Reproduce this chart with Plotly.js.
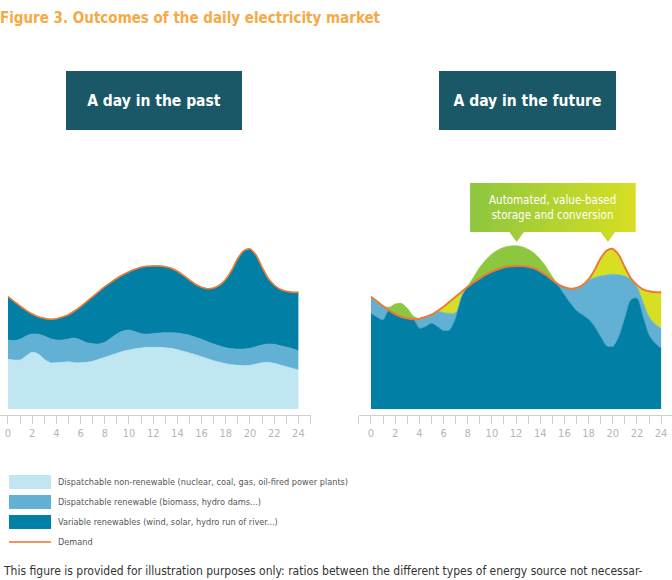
<!DOCTYPE html>
<html>
<head>
<meta charset="utf-8">
<script src="https://cdn.plot.ly/plotly-3.0.1.min.js"></script>
<style>
  html, body { margin: 0; padding: 0; background: #ffffff; }
  #chart { width: 672px; height: 580px; }
</style>
</head>
<body>
<div id="chart"></div>
<script>
// Half-hourly time axis (hours of the day)
const hours = [0,0.5,1,1.5,2,2.5,3,3.5,4,4.5,5,5.5,6,6.5,7,7.5,8,8.5,9,9.5,10,10.5,11,11.5,12,
               12.5,13,13.5,14,14.5,15,15.5,16,16.5,17,17.5,18,18.5,19,19.5,20,20.5,21,21.5,22,22.5,23,23.5,24];

// Electricity demand (same profile on both days)
const demand = [112.3,107.7,103,98.7,95,92.3,90.7,89.7,90.3,92,94.3,98,102.3,107.3,112.3,117.3,122.3,126.7,
                130.7,134.3,137.3,139.7,141.7,142.7,143,143,142.3,140.7,137.7,133.7,129,124.7,121.7,120.3,
                121,124,129.7,139,150.7,158.3,160,154,141.7,130.7,124,119.7,117.7,116.7,116.7];

// A day in the past: output by source
const pastNonRenewable = [49.7,49,49,53,56.7,55,49.7,46.3,46.3,46.7,47.3,46.3,46.3,46.7,47.7,49.7,51.7,53.7,
                          55.7,57.7,59,60.3,61,61.7,61.7,61.7,61.3,60.7,59.3,57.7,56,54.3,52.3,50.3,48.3,46.7,
                          45.3,44.3,43.7,43.3,43.7,45,46.3,46.7,45.7,44,42.3,40.7,39];
const pastRenewable = [19.3,19.3,20.7,20,18.3,19.7,23.3,24,22.7,22.3,22.7,24.7,22.7,19.6,17.6,15.3,15,17,
                       19.3,20.3,20,17,14.3,13.3,13.6,14.3,15,15.6,16.7,17.3,17.7,17.4,17.4,17,16.7,16.3,
                       16,16,16.3,16.7,17,17.3,17.7,18.3,19,19.3,19.7,19.6,19.3];
const pastVariable = [43.3,39.4,33.3,25.7,20,17.6,17.7,19.4,21.3,23,24.3,27,33.3,41,47,52.3,55.6,56,55.7,
                      56.3,58.3,62.4,66.4,67.7,67.7,67,66,64.4,61.7,58.7,55.3,53,52,53,56,61,68.4,78.7,
                      90.7,98.3,99.3,91.7,77.7,65.7,59.3,56.4,55.7,56.4,58.4];

// A day in the future: variable renewable production and dispatchable renewable top-up
const futureVariable = [95.7,91.7,89,101.7,105,105.7,100.7,93,80.7,82.3,85.7,82.3,78.3,79,90.7,112.3,123,
                        132.3,141.7,149,155,159,161.7,163,163.3,162.3,159.7,155.7,149.7,141.7,132.3,123,114,
                        105.7,98.3,94,89.7,82.3,72.3,63,62.3,72.3,90.7,109,110.7,92.3,74,65.7,60.7];
const futureRenewable = [16.6,16,14,0,0,0,0,0,9.6,9.7,8.6,15.7,18,16.7,5.6,0.7,0,0,0,0,0,0,0,0,0,0,0,0,0,0,0,
                         1.7,7.7,14.6,22.7,30,39.3,49,60.7,71,72.4,62,42.3,20.7,11.6,15,18.3,19.3,20];

// Axis labels and texts
const tickHours = [0,2,4,6,8,10,12,14,16,18,20,22,24];
const tickLabels = ['0','2','4','6','8','10','12','14','16','18','20','22','24'];
const seriesNames = [
  'Dispatchable non-renewable (nuclear, coal, gas, oil-fired power plants)',
  'Dispatchable renewable (biomass, hydro dams...)',
  'Variable renewables (wind, solar, hydro run of river...)',
  'Demand'
];
const panelTitles = ['A day in the past', 'A day in the future'];
const calloutText = 'Automated, value-based<br>storage and conversion';
const figureTitle = 'Figure 3. Outcomes of the daily electricity market';
const footnote = 'This figure is provided for illustration purposes only: ratios between the different types of energy source not necessar-';

// ---- styling ----
const C = {
  nonRenewable: '#bfe6f1',
  renewable: '#62b0d4',
  variable: '#017fa4',
  charge: '#8dc63f',
  discharge: '#d7df23',
  demand: '#ee7b35',
  titleBox: '#1a5767',
  axis: '#cfcfcf',
  tickText: '#b5b5b5'
};
const COND = '"DejaVu Sans Condensed", "DejaVu Sans", sans-serif';
const W = 672, H = 580;
const px = v => v / W;            // horizontal pixel -> paper
const py = v => 1 - v / H;        // vertical pixel -> paper

function area(y, color, xa, ya, extra) {
  return Object.assign({
    type: 'scatter', mode: 'lines', x: hours, y: y, xaxis: xa, yaxis: ya,
    line: { shape: 'spline', smoothing: 0.8, width: 0.6, color: color },
    fillcolor: color, hoverinfo: 'skip', showlegend: false
  }, extra);
}

// Past day: stacked supply
const traces = [
  area(pastNonRenewable, C.nonRenewable, 'x', 'y', { stackgroup: 'past' }),
  area(pastRenewable, C.renewable, 'x', 'y', { stackgroup: 'past' }),
  area(pastVariable, C.variable, 'x', 'y', { stackgroup: 'past' }),
  { type: 'scatter', mode: 'lines', x: hours, y: demand, xaxis: 'x', yaxis: 'y',
    line: { shape: 'spline', smoothing: 0.8, color: C.demand, width: 1.6 }, hoverinfo: 'skip', showlegend: false }
];

// Future day: variable output up to demand, dispatchable renewables on top,
// storage discharge fills the gap, surplus above demand is stored
const futDark = hours.map((h, i) => Math.min(futureVariable[i], demand[i]));
const futSupply = hours.map((h, i) => Math.min(futureVariable[i] + futureRenewable[i], demand[i]));
const futSurplus = hours.map((h, i) => Math.max(futureVariable[i], demand[i]));

traces.push(
  area(futDark, C.variable, 'x2', 'y2', { fill: 'tozeroy' }),
  area(futSupply, C.renewable, 'x2', 'y2', { fill: 'tonexty' }),
  area(demand, C.discharge, 'x2', 'y2', { fill: 'tonexty', line: { shape: 'spline', smoothing: 0.8, width: 0 } }),
  area(futSurplus, C.charge, 'x2', 'y2', { fill: 'tonexty' }),
  { type: 'scatter', mode: 'lines', x: hours, y: demand, xaxis: 'x2', yaxis: 'y2',
    line: { shape: 'spline', smoothing: 0.8, color: C.demand, width: 2 }, hoverinfo: 'skip', showlegend: false }
);

// Speech bubble for the storage callout, placed over the future panel
const bubble = { left: 8.2, right: 21.9, top: 226, bottom: 177, tipDepth: 10, tipHalf: 0.6, tips: [12.05, 19.6] };
(function () {
  const bx = [bubble.left, bubble.right, bubble.right];
  const by = [bubble.top, bubble.top, bubble.bottom];
  bubble.tips.slice().reverse().forEach(t => {
    bx.push(t + bubble.tipHalf, t, t - bubble.tipHalf);
    by.push(bubble.bottom, bubble.bottom - bubble.tipDepth, bubble.bottom);
  });
  bx.push(bubble.left, bubble.left);
  by.push(bubble.bottom, bubble.top);
  traces.push({
    type: 'scatter', mode: 'lines', x: bx, y: by, xaxis: 'x2', yaxis: 'y2',
    fill: 'toself', line: { width: 0 }, fillcolor: C.charge,
    fillgradient: { type: 'horizontal', colorscale: [[0, C.charge], [1, C.discharge]] },
    hoverinfo: 'skip', showlegend: false
  });
})();

// ---- axes ----
const PXH = 12.1;                       // pixels per hour
const yDomain = [(H - 415) / H, (H - 60) / H];
const yRange = [-6, 349];
function xAxis(range, left, anchor) {
  const right = Math.min(W, left + (range[1] - range[0]) * PXH);
  return {
    domain: [left / W, right / W], range: range, anchor: anchor,
    tickmode: 'array', tickvals: tickHours, ticktext: tickLabels,
    ticks: 'outside', ticklen: 8, tickwidth: 1, tickcolor: C.axis,
    minor: { tick0: 0, dtick: 1, ticks: 'outside', ticklen: 8, tickwidth: 1, tickcolor: C.axis, showgrid: false },
    showline: true, linecolor: C.axis, linewidth: 1,
    showgrid: false, zeroline: false, fixedrange: true,
    tickfont: { family: COND, size: 11, color: C.tickText }
  };
}
function yAxis(anchor) {
  return { domain: yDomain, range: yRange, anchor: anchor, visible: false, fixedrange: true };
}

// ---- legend (drawn as swatches + labels) ----
const legendRows = [482, 502, 522, 542];
const legendColors = [C.nonRenewable, C.renewable, C.variable];
const shapes = [];
legendColors.forEach((col, i) => {
  shapes.push({ type: 'rect', xref: 'paper', yref: 'paper', x0: px(9), x1: px(51),
    y0: py(legendRows[i] - 7), y1: py(legendRows[i] + 7), fillcolor: col, line: { width: 0 } });
});
shapes.push({ type: 'line', xref: 'paper', yref: 'paper', x0: px(9), x1: px(51),
  y0: py(legendRows[3]), y1: py(legendRows[3]), line: { color: '#f0955a', width: 1.8 } });

const annotations = [];
seriesNames.forEach((name, i) => {
  annotations.push({ text: name, xref: 'paper', yref: 'paper', x: px(56), y: py(legendRows[i]),
    xanchor: 'left', yanchor: 'middle', showarrow: false,
    font: { family: COND, size: 9.1, color: '#555555' } });
});

// Panel headers
[[154, 176], [527.5, 177]].forEach((b, i) => {
  annotations.push({ text: panelTitles[i], xref: 'paper', yref: 'paper', x: px(b[0]), y: py(100.5),
    xanchor: 'center', yanchor: 'middle', showarrow: false, bgcolor: C.titleBox,
    borderwidth: 0, borderpad: 0, width: b[1], height: 59,
    font: { family: COND, size: 15.5, color: '#ffffff', weight: 'bold' } });
});

// Callout text
annotations.push({ text: calloutText, xref: 'x2', yref: 'y2',
  x: (bubble.left + bubble.right) / 2, y: (bubble.top + bubble.bottom) / 2,
  xanchor: 'center', yanchor: 'middle', showarrow: false,
  font: { family: COND, size: 11.5, color: '#ffffff' } });

// Footnote
annotations.push({ text: footnote, xref: 'paper', yref: 'paper', x: px(1), y: py(571),
  xanchor: 'left', yanchor: 'middle', showarrow: false,
  font: { family: COND, size: 12, color: '#333333' } });

const layout = {
  width: W, height: H,
  margin: { l: 0, r: 0, t: 0, b: 0, pad: 0 },
  paper_bgcolor: '#ffffff', plot_bgcolor: 'rgba(0,0,0,0)',
  showlegend: false,
  title: { text: figureTitle, xref: 'container', yref: 'container', x: 0, xanchor: 'left',
           y: py(18), yanchor: 'middle',
           font: { family: COND, size: 15, color: '#f6a945', weight: 'bold' } },
  xaxis: xAxis([-0.66, 25.05], 0, 'y'),
  yaxis: yAxis('x'),
  xaxis2: xAxis([-1.02, 24.9], 371 - 1.02 * PXH, 'y2'),
  yaxis2: yAxis('x2'),
  shapes: shapes,
  annotations: annotations
};

Plotly.newPlot('chart', traces, layout, { displayModeBar: false, staticPlot: true });
</script>
</body>
</html>
